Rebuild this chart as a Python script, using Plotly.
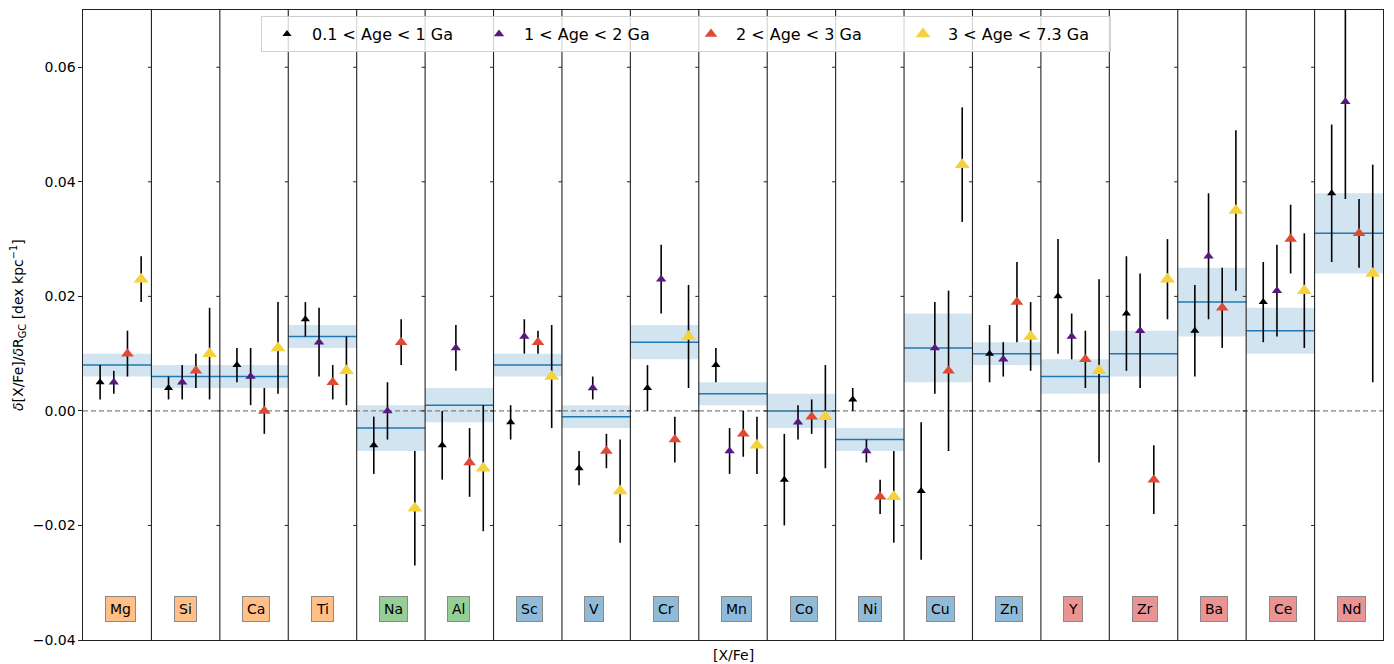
import plotly.graph_objects as go

# Elements, in panel order, with their nucleosynthetic family
elements = ["Mg", "Si", "Ca", "Ti", "Na", "Al", "Sc", "V", "Cr", "Mn",
            "Co", "Ni", "Cu", "Zn", "Y", "Zr", "Ba", "Ce", "Nd"]
families = ["alpha"] * 4 + ["odd"] * 2 + ["iron"] * 8 + ["ncap"] * 5

# Gradient for the whole sample (line) and its uncertainty (band)
mean_grad = [0.008, 0.006, 0.006, 0.013, -0.003, 0.001, 0.008, -0.001, 0.012, 0.003,
             0.000, -0.005, 0.011, 0.010, 0.006, 0.010, 0.019, 0.014, 0.031]
mean_err = [0.002, 0.002, 0.002, 0.002, 0.004, 0.003, 0.002, 0.002, 0.003, 0.002,
            0.003, 0.002, 0.006, 0.002, 0.003, 0.004, 0.006, 0.004, 0.007]

# Gradients per age bin
grad_age1 = [0.005, 0.004, 0.008, 0.016, -0.006, -0.006, -0.002, -0.010, 0.004, 0.008,
             -0.012, 0.002, -0.014, 0.010, 0.020, 0.017, 0.014, 0.019, 0.038]
err_age1 = [0.003, 0.002, 0.003, 0.003, 0.005, 0.006, 0.003, 0.003, 0.004, 0.003,
            0.008, 0.002, 0.012, 0.005, 0.010, 0.010, 0.008, 0.007, 0.012]

grad_age2 = [0.005, 0.005, 0.006, 0.012, 0.000, 0.011, 0.013, 0.004, 0.023, -0.007,
             -0.002, -0.007, 0.011, 0.009, 0.013, 0.014, 0.027, 0.021, 0.054]
err_age2 = [0.002, 0.003, 0.005, 0.006, 0.005, 0.004, 0.003, 0.002, 0.006, 0.004,
            0.003, 0.002, 0.008, 0.003, 0.004, 0.010, 0.011, 0.008, 0.017]

grad_age3 = [0.010, 0.007, 0.000, 0.005, 0.012, -0.009, 0.012, -0.007, -0.005, -0.004,
             -0.001, -0.015, 0.007, 0.019, 0.009, -0.012, 0.018, 0.030, 0.031]
err_age3 = [0.004, 0.003, 0.004, 0.003, 0.004, 0.006, 0.002, 0.003, 0.004, 0.004,
            0.003, 0.003, 0.014, 0.007, 0.005, 0.006, 0.007, 0.006, 0.006]

grad_age4 = [0.023, 0.010, 0.011, 0.007, -0.017, -0.010, 0.006, -0.014, 0.013, -0.006,
             -0.001, -0.015, 0.043, 0.013, 0.007, 0.023, 0.035, 0.021, 0.024]
err_age4 = [0.004, 0.008, 0.008, 0.006, 0.010, 0.011, 0.009, 0.009, 0.009, 0.005,
            0.009, 0.008, 0.010, 0.006, 0.016, 0.007, 0.014, 0.010, 0.019]

age_labels = ["0.1 < Age < 1 Ga", "1 < Age < 2 Ga", "2 < Age < 3 Ga", "3 < Age < 7.3 Ga"]
age_colors = ["#000004", "#581880", "#e04a35", "#f5d23c"]
age_sizes = [8, 9, 11, 13]
age_offsets = [0.25, 0.45, 0.65, 0.85]

family_colors = {"alpha": "#ffbf86", "odd": "#95cf95", "iron": "#8fbbd9", "ncap": "#ea9393"}

y_ticks = [-0.04, -0.02, 0.0, 0.02, 0.04, 0.06]
y_range = [-0.04, 0.07]
label_y = -0.0345

W, H = 1394, 664
ML, MR, MT, MB = 83, 11, 10, 24
n = len(elements)
px_per_x = (W - ML - MR) / n

fig = go.Figure()

shapes = []
# Whole-sample gradient: shaded uncertainty band and central line, one per panel
for i, (m, e) in enumerate(zip(mean_grad, mean_err)):
    shapes.append(dict(type="rect", xref="x", yref="y", x0=i, x1=i + 1, y0=m - e, y1=m + e,
                       fillcolor="rgba(31,119,180,0.2)", line=dict(width=0), layer="below"))
for i, m in enumerate(mean_grad):
    shapes.append(dict(type="line", xref="x", yref="y", x0=i, x1=i + 1, y0=m, y1=m,
                       line=dict(color="#1f77b4", width=1.5), layer="below"))
# Zero reference
shapes.append(dict(type="line", xref="x", yref="y", x0=0, x1=n, y0=0, y1=0,
                   line=dict(color="#808080", width=1.2, dash="5px,3px"), layer="below"))
# Panel separators with their own small y ticks
tick_len = 3.5 / px_per_x
for b in range(1, n):
    shapes.append(dict(type="line", xref="x", yref="paper", x0=b, x1=b, y0=0, y1=1,
                       line=dict(color="#222222", width=1.1), layer="above"))
    for t in y_ticks[1:]:
        shapes.append(dict(type="line", xref="x", yref="y", x0=b - tick_len, x1=b, y0=t, y1=t,
                           line=dict(color="#222222", width=1), layer="above"))

grads = [grad_age1, grad_age2, grad_age3, grad_age4]
errs = [err_age1, err_age2, err_age3, err_age4]
for k in range(4):
    xs = [i + age_offsets[k] for i in range(n)]
    fig.add_trace(go.Scatter(
        x=xs, y=grads[k], mode="markers", name=age_labels[k],
        marker=dict(symbol="triangle-up", size=age_sizes[k], color=age_colors[k],
                    line=dict(width=0)),
        error_y=dict(type="data", array=errs[k], visible=True, color="black",
                     thickness=1.6, width=0),
        cliponaxis=True,
    ))

annotations = []
for i, (el, fam) in enumerate(zip(elements, families)):
    annotations.append(dict(
        x=i + 0.4, y=label_y, xref="x", yref="y", text=el, showarrow=False,
        xanchor="left", yanchor="middle", xshift=-5,
        font=dict(family="DejaVu Sans", size=14, color="black"),
        bgcolor=family_colors[fam], bordercolor="#8a8a8a", borderwidth=1, borderpad=4,
    ))
annotations.append(dict(
    x=0.5, y=-15 / (H - MT - MB), xref="paper", yref="paper", text="[X/Fe]",
    showarrow=False, xanchor="center", yanchor="middle",
    font=dict(family="DejaVu Sans", size=14, color="black"),
))
annotations.append(dict(
    x=(18 - ML) / (W - ML - MR), y=0.5, xref="paper", yref="paper",
    text="<i>δ</i>[X/Fe]/<i>δ</i>R<sub>GC</sub> [dex kpc<sup>−1</sup>]",
    showarrow=False, xanchor="center", yanchor="middle", textangle=-90,
    font=dict(family="DejaVu Sans", size=14, color="black"),
))

fig.update_layout(
    width=W, height=H,
    margin=dict(l=ML, r=MR, t=MT, b=MB),
    paper_bgcolor="white", plot_bgcolor="white",
    font=dict(family="DejaVu Sans", size=14, color="black"),
    shapes=shapes, annotations=annotations,
    showlegend=True,
    legend=dict(
        orientation="h", x=(261 - ML) / (W - ML - MR), y=(H - MB - 16) / (H - MT - MB),
        xanchor="left", yanchor="top",
        bgcolor="rgba(255,255,255,0.8)", bordercolor="#d0d0d0", borderwidth=1,
        font=dict(family="DejaVu Sans", size=16, color="black"),
        entrywidth=157, entrywidthmode="pixels", itemwidth=40,
    ),
    xaxis=dict(range=[0, n], showticklabels=False, ticks="", showgrid=False, zeroline=False,
               showline=True, mirror=True, linecolor="#222222", linewidth=1.1),
    yaxis=dict(range=y_range, tickvals=y_ticks, tickformat=".2f", ticks="outside",
               ticklen=3.5, tickwidth=1, tickcolor="#222222", showgrid=False, zeroline=False,
               showline=True, mirror=True, linecolor="#222222", linewidth=1.1,
               tickfont=dict(family="DejaVu Sans", size=14, color="black")),
)

fig.write_html("out.html")
